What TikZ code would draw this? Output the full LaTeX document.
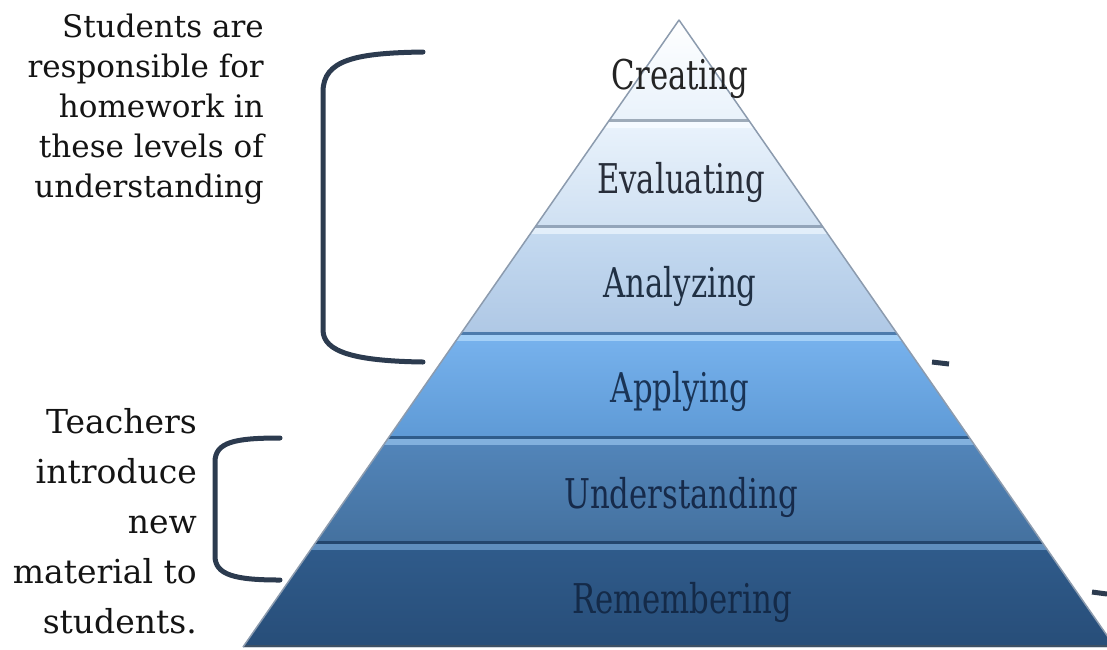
\documentclass[tikz,border=0pt]{standalone}
\usepackage{fontspec}
\setmainfont{DejaVu Serif}
\usepackage{tikz}
\usetikzlibrary{calc}

\definecolor{bracketgray}{HTML}{2C3B4F}
\definecolor{edgegray}{HTML}{8C9BAE}

\tikzset{
	bracket/.style={line width=5pt, color=bracketgray, line cap=round},
	lvl/.style={anchor=base, inner sep=0pt, font=\fontsize{41}{45}\selectfont},
	note/.style={anchor=north east, inner sep=0pt, align=right, color=black!92},
	sepline/.style={line width=3pt},
	glowline/.style={line width=6pt},
}
\def\lvltext#1{\scalebox{0.75}[1]{#1}}

\begin{document}
\begin{tikzpicture}[x=1pt, y=-1pt]
		%%%%% START %%%%%
		\useasboundingbox (0, 0) rectangle (1107, 649);
		
		\coordinate (apex) at (679, 20);
		\coordinate (baseL) at (243, 647);
		\coordinate (baseR) at (1115, 647);
		
		\begin{scope}
			\clip (apex) -- (baseL) -- (baseR) -- cycle;
			
			\shade[top color=white, bottom color={rgb,255:red,233;green,242;blue,251}] (200, 18) rectangle (1120, 120);
			\shade[top color={rgb,255:red,234;green,243;blue,252}, bottom color={rgb,255:red,207;green,224;blue,242}] (200, 120) rectangle (1120, 226);
			\shade[top color={rgb,255:red,198;green,219;blue,241}, bottom color={rgb,255:red,175;green,200;blue,229}] (200, 226) rectangle (1120, 333);
			\shade[top color={rgb,255:red,120;green,179;blue,238}, bottom color={rgb,255:red,94;green,154;blue,214}] (200, 333) rectangle (1120, 437);
			\shade[top color={rgb,255:red,83;green,134;blue,187}, bottom color={rgb,255:red,68;green,113;blue,159}] (200, 437) rectangle (1120, 542);
			\shade[top color={rgb,255:red,48;green,92;blue,140}, bottom color={rgb,255:red,39;green,77;blue,120}] (200, 542) rectangle (1120, 650);
			
			% band edges
			\draw[sepline, color={rgb,255:red,158;green,171;blue,185}] (200, 120) -- (1120, 120);
			\draw[glowline, color={rgb,255:red,245;green,250;blue,255}] (200, 125) -- (1120, 125);
			\draw[sepline, color={rgb,255:red,147;green,165;blue,186}] (200, 226) -- (1120, 226);
			\draw[glowline, color={rgb,255:red,226;green,238;blue,250}] (200, 231) -- (1120, 231);
			\draw[sepline, color={rgb,255:red,77;green,124;blue,173}] (200, 333) -- (1120, 333);
			\draw[glowline, color={rgb,255:red,164;green,208;blue,247}] (200, 338) -- (1120, 338);
			\draw[sepline, color={rgb,255:red,47;green,92;blue,139}] (200, 437) -- (1120, 437);
			\draw[glowline, color={rgb,255:red,130;green,177;blue,222}] (200, 442) -- (1120, 442);
			\draw[sepline, color={rgb,255:red,35;green,70;blue,110}] (200, 542) -- (1120, 542);
			\draw[glowline, color={rgb,255:red,95;green,142;blue,190}] (200, 547) -- (1120, 547);
			\draw[sepline, color={rgb,255:red,62;green,80;blue,100}] (200, 646) -- (1120, 646);
		\end{scope}
		
		\draw[line width=1.5pt, color=edgegray, line join=round] (baseL) -- (apex) -- (baseR);
		
		\node[lvl, color={rgb,255:red,36;green,36;blue,36}] (creating) at (680, 89) {\lvltext{Creating}};
		\node[lvl, color={rgb,255:red,40;green,46;blue,58}] (evaluating) at (681, 193) {\lvltext{Evaluating}};
		\node[lvl, color={rgb,255:red,32;green,48;blue,68}] (analyzing) at (680, 297) {\lvltext{Analyzing}};
		\node[lvl, color={rgb,255:red,26;green,52;blue,86}] (applying) at (680, 402) {\lvltext{Applying}};
		\node[lvl, color={rgb,255:red,22;green,42;blue,74}] (understanding) at (681, 508) {\lvltext{Understanding}};
		\node[lvl, color={rgb,255:red,20;green,42;blue,72}] (remembering) at (682, 613) {\lvltext{Remembering}};
		
		% brackets
		\draw[bracket] (423, 52) .. controls (355, 53) and (323, 60) .. (323, 92) -- (323, 330) .. controls (323, 352) and (355, 361) .. (423, 362);
		\draw[bracket] (280, 438) .. controls (235, 438) and (215, 442) .. (215, 462) -- (215, 556) .. controls (215, 575) and (235, 580) .. (280, 580);
		\draw[bracket, line cap=butt] (932, 362) -- (949, 364);
		\draw[bracket, line cap=butt] (1092, 592) -- (1107, 594);
		
		\node[note, font=\fontsize{31}{40}\selectfont] (students) at (264, 14) {Students are\\responsible for\\homework in\\these levels of\\understanding};
		\node[note, font=\fontsize{33}{50}\selectfont] (teachers) at (197, 408) {Teachers\\introduce\\new\\material to\\students.};
		
		%%%%% END %%%%%
\end{tikzpicture}
\end{document}
